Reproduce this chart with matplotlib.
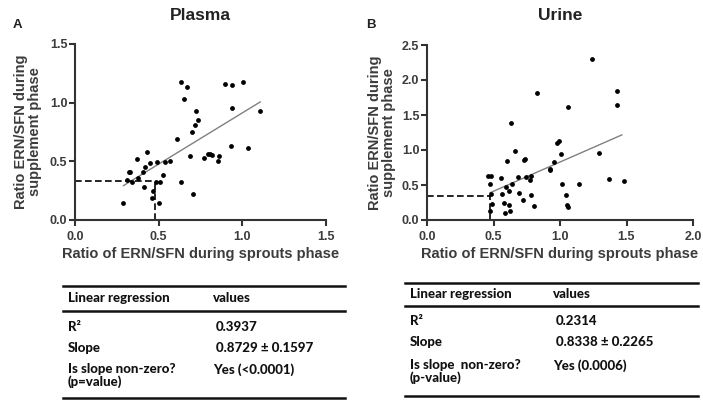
import matplotlib
matplotlib.use("Agg")
import matplotlib.pyplot as plt
from matplotlib.lines import Line2D
import numpy as np

# ---------------- data ----------------
plasma_x = [0.288, 0.308, 0.321, 0.331, 0.343, 0.373, 0.375, 0.407, 0.421, 0.433,
            0.411, 0.450, 0.466, 0.462, 0.488, 0.484, 0.500, 0.510, 0.528, 0.536,
            0.565, 0.607, 0.631, 0.633, 0.651, 0.667, 0.685, 0.700, 0.706, 0.716,
            0.726, 0.736, 0.772, 0.796, 0.808, 0.819, 0.853, 0.859, 0.899, 0.931,
            0.937, 0.937, 1.004, 1.032, 1.107]
plasma_y = [0.148, 0.341, 0.409, 0.409, 0.327, 0.520, 0.355, 0.412, 0.455, 0.582,
            0.278, 0.483, 0.250, 0.185, 0.491, 0.327, 0.142, 0.321, 0.381, 0.497,
            0.506, 0.693, 0.327, 1.179, 1.028, 1.134, 0.548, 0.747, 0.219, 0.810,
            0.926, 0.852, 0.528, 0.563, 0.563, 0.554, 0.503, 0.548, 1.162, 0.631,
            0.955, 1.151, 1.173, 0.614, 0.929]
plasma_slope, plasma_intercept = 0.8729, 0.04
plasma_fit_range = [0.29, 1.107]
plasma_cut = (0.48, 0.33)

urine_x = [0.455, 0.480, 0.470, 0.480, 0.490, 0.475, 0.558, 0.563, 0.578, 0.583,
           0.595, 0.600, 0.615, 0.623, 0.620, 0.633, 0.638, 0.665, 0.683, 0.690,
           0.723, 0.730, 0.740, 0.743, 0.783, 0.783, 0.775, 0.805, 0.825, 0.923,
           0.928, 0.953, 0.975, 0.995, 1.010, 1.013, 1.045, 1.053, 1.063, 1.063,
           1.143, 1.238, 1.290, 1.368, 1.428, 1.430, 1.480]
urine_y = [0.629, 0.629, 0.510, 0.371, 0.229, 0.129, 0.600, 0.371, 0.238, 0.095,
           0.476, 0.843, 0.214, 0.129, 0.419, 1.386, 0.514, 0.990, 0.619, 0.386,
           0.286, 0.857, 0.867, 0.619, 0.629, 0.362, 0.576, 0.205, 1.819, 0.710,
           0.724, 0.833, 1.100, 1.124, 0.943, 0.519, 0.352, 0.214, 0.190, 1.610,
           0.510, 2.305, 0.952, 0.586, 1.848, 1.648, 0.562]
urine_slope, urine_intercept = 0.8338, -0.006
urine_fit_range = [0.475, 1.465]
urine_cut = (0.475, 0.338)

plasma_xticks = [0.0, 0.5, 1.0, 1.5]
plasma_yticks = [0.0, 0.5, 1.0, 1.5]
urine_xticks = [0.0, 0.5, 1.0, 1.5, 2.0]
urine_yticks = [0.0, 0.5, 1.0, 1.5, 2.0, 2.5]

table_header = ["Linear regression", "values"]
plasma_rows = [("R\u00b2", "0.3937"),
               ("Slope", "0.8729 \u00b1 0.1597"),
               ("Is slope non-zero?\n(p=value)", "Yes (<0.0001)")]
urine_rows = [("R\u00b2", "0.2314"),
              ("Slope", "0.8338 \u00b1 0.2265"),
              ("Is slope  non-zero?\n(p-value)", "Yes (0.0006)")]

# ---------------- figure ----------------
W, H = 703, 408
fig = plt.figure(figsize=(W / 100, H / 100), dpi=100)
plt.rcParams['font.family'] = ['Liberation Sans', 'DejaVu Sans']

def fx(px):
    return px / W

def fy(py):
    return 1 - py / H

axc = '#333333'
txtc = '#3c3c3c'

def make_panel(rect, xs, ys, slope, intercept, frange, cut, xticks, yticks,
               title, letter, letter_px, ylab_px):
    ax = fig.add_axes(rect)
    ax.scatter(xs, ys, s=12, color='black', zorder=3, linewidths=0)
    xf = np.array(frange)
    ax.plot(xf, slope * xf + intercept, color='#808080', lw=1.0, zorder=2)
    ax.plot([0, cut[0]], [cut[1], cut[1]], color='black', lw=1.2,
            dashes=(4, 2), zorder=2)
    ax.plot([cut[0], cut[0]], [0, cut[1]], color='black', lw=1.2,
            dashes=(4, 2), zorder=2)
    ax.set_xlim(xticks[0], xticks[-1])
    ax.set_ylim(yticks[0], yticks[-1])
    ax.set_xticks(xticks)
    ax.set_yticks(yticks)
    ax.set_xticklabels([f"{t:.1f}" for t in xticks])
    ax.set_yticklabels([f"{t:.1f}" for t in yticks])
    for s in ['top', 'right']:
        ax.spines[s].set_visible(False)
    for s in ['left', 'bottom']:
        ax.spines[s].set_color(axc)
        ax.spines[s].set_linewidth(1.5)
    ax.tick_params(axis='both', direction='out', length=4, width=1.5,
                   color=axc, labelcolor=txtc, labelsize=9, pad=1.5)
    ax.tick_params(axis='x', pad=4)
    for lab in ax.get_xticklabels() + ax.get_yticklabels():
        lab.set_fontweight('bold')
    for c in ax.collections + ax.lines:
        c.set_clip_on(False)
    ax.set_xlabel("Ratio of ERN/SFN during sprouts phase", fontsize=10.5,
                  fontweight='bold', color=txtc, labelpad=3)
    cx = rect[0] + rect[2] / 2
    fig.text(cx, fy(16), title, ha='center', va='center', fontsize=12.5,
             fontweight='bold', color='#222222')
    fig.text(fx(letter_px), fy(25), letter, ha='center', va='center',
             fontsize=9.5, fontweight='bold', color='#222222')
    cy = rect[1] + rect[3] / 2
    fig.text(fx(ylab_px), cy, "Ratio ERN/SFN during\nsupplement phase",
             rotation=90, ha='center', va='center', fontsize=10.5,
             fontweight='bold', color=txtc, linespacing=1.0)
    return ax

make_panel([fx(75), fy(220), fx(326) - fx(75), fy(44) - fy(220)],
           plasma_x, plasma_y, plasma_slope, plasma_intercept,
           plasma_fit_range, plasma_cut, plasma_xticks, plasma_yticks,
           "Plasma", "A", 17, 28)
make_panel([fx(427), fy(220), fx(693) - fx(427), fy(45) - fy(220)],
           urine_x, urine_y, urine_slope, urine_intercept,
           urine_fit_range, urine_cut, urine_xticks, urine_yticks,
           "Urine", "B", 371, 382)

def hline(x0, x1, y, lw):
    fig.add_artist(Line2D([fx(x0), fx(x1)], [fy(y), fy(y)], color='#111111',
                          lw=lw, transform=fig.transFigure))

def draw_table(x0, x1, xtext, xval, ys, rows):
    top, head, hl, r1, r2, r3, bot = ys
    hline(x0, x1, top, 1.8)
    hline(x0, x1, hl, 1.8)
    hline(x0, x1, bot, 1.8)
    tk = dict(fontsize=9.5, fontweight='black', color='#111111',
              family=['Lato', 'DejaVu Sans'], va='center', ha='left')
    fig.text(fx(xtext), fy(head), table_header[0], **tk)
    fig.text(fx(xval), fy(head), table_header[1], **tk)
    for (lab, val), yy in zip(rows, [r1, r2, r3]):
        if "\n" in lab:
            fig.text(fx(xtext), fy(yy), lab, linespacing=1.0,
                     **{**tk, 'va': 'top'})
            fig.text(fx(xval), fy(yy), val, **{**tk, 'va': 'top'})
        else:
            fig.text(fx(xtext), fy(yy), lab, **tk)
            fig.text(fx(xval + 3), fy(yy), val, **tk)

draw_table(63, 345, 68, 213, [286, 298, 311, 327, 348, 363, 398], plasma_rows)
draw_table(405, 698, 410, 553, [283, 294, 306, 321, 342, 359, 396], urine_rows)

fig.savefig("out.png", dpi=100)
